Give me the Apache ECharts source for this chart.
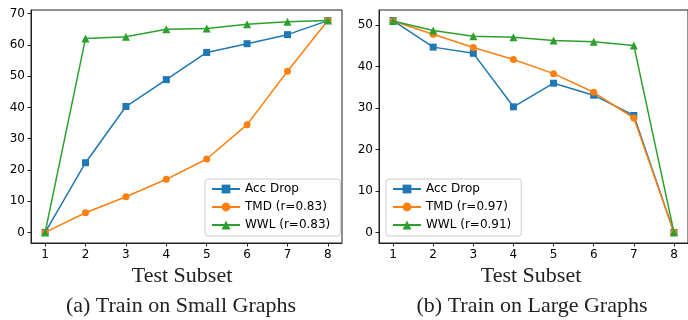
<!DOCTYPE html>
<html>
<head>
<meta charset="utf-8">
<script src="https://cdn.jsdelivr.net/npm/echarts@6/dist/echarts.min.js"></script>
<style>html,body{margin:0;padding:0;background:#fff;}#c{width:688px;height:320px;}</style>
</head>
<body>
<div id="c"></div>
<script>
const subsets = [1, 2, 3, 4, 5, 6, 7, 8];
const xTicks = [1, 2, 3, 4, 5, 6, 7, 8];
const yTicksLeft = [0, 10, 20, 30, 40, 50, 60, 70];
const yTicksRight = [0, 10, 20, 30, 40, 50];

// (a) Train on Small Graphs
const smallAccDrop = [0, 22.3, 40.3, 48.9, 57.6, 60.4, 63.3, 67.8];
const smallTMD     = [0, 6.3, 11.4, 17.0, 23.5, 34.5, 51.6, 67.8];
const smallWWL     = [0, 62.1, 62.6, 65.0, 65.3, 66.6, 67.4, 67.8];

// (b) Train on Large Graphs
const largeAccDrop = [51.1, 44.7, 43.2, 30.3, 36.0, 33.1, 28.2, 0];
const largeTMD     = [51.0, 47.8, 44.6, 41.7, 38.3, 33.8, 27.6, 0];
const largeWWL     = [51.0, 48.7, 47.3, 47.1, 46.3, 46.0, 45.1, 0];

const namesLeft = ['Acc Drop', 'TMD (r=0.83)', 'WWL (r=0.83)'];
const namesRight = ['Acc Drop', 'TMD (r=0.97)', 'WWL (r=0.91)'];

const colors = ['#1f77b4', '#ff7f0e', '#2ca02c'];
const symbols = ['rect', 'circle', 'triangle'];
const symSizes = [7, 7, 8];

const tickFont = {fontFamily: 'DejaVu Sans', fontSize: 12, color: '#000'};
const axisColor = '#222';

function pairs(vals) { return subsets.map((x, i) => [x, vals[i]]); }

function pad(lo, hi) { const m = (hi - lo) * 0.05; return [lo - m, hi + m]; }

function xAxis(gi) {
  return {
    type: 'value', gridIndex: gi, min: 0.65, max: 8.35,
    splitLine: {show: false},
    axisLine: {show: true, onZero: false, lineStyle: {color: axisColor, width: 1}},
    axisTick: {show: true, length: 3.5, customValues: xTicks, lineStyle: {color: axisColor}},
    axisLabel: {show: true, margin: 6, customValues: xTicks, ...tickFont}
  };
}
function yAxis(gi, range, ticks) {
  return {
    type: 'value', gridIndex: gi, min: range[0], max: range[1],
    splitLine: {show: false},
    axisLine: {show: true, onZero: false, lineStyle: {color: axisColor, width: 1}},
    axisTick: {show: true, length: 3.5, customValues: ticks, lineStyle: {color: axisColor}},
    axisLabel: {show: true, margin: 6, customValues: ticks, ...tickFont}
  };
}

const leftRange = pad(0, 67.8);
const rightRange = pad(0, 51.1);

function mkSeries(names, data, gi) {
  return names.map((n, i) => ({
    name: n, type: 'line', xAxisIndex: gi, yAxisIndex: gi,
    data: pairs(data[i]),
    symbol: symbols[i], symbolSize: symSizes[i],
    lineStyle: {color: colors[i], width: 1.5},
    itemStyle: {color: colors[i]},
    animation: false, z: 2 + i
  }));
}

function legend(left, names) {
  return {
    data: names, left: left, top: 179, orient: 'vertical',
    backgroundColor: '#fff', borderColor: '#cccccc', borderWidth: 1, borderRadius: 3,
    padding: [3, 10, 4, 6], itemGap: 4, itemWidth: 28, itemHeight: 11,
    textStyle: {fontFamily: 'DejaVu Sans', fontSize: 12, color: '#000', lineHeight: 14},
    selectedMode: false
  };
}

const serif = 'Liberation Serif, Times New Roman, serif';

const option = {
  backgroundColor: '#fff',
  animation: false,
  grid: [
    {left: 31, top: 10, width: 311, height: 233, show: true, borderColor: axisColor, borderWidth: 1},
    {left: 379, top: 10, width: 311, height: 233, show: true, borderColor: axisColor, borderWidth: 1}
  ],
  xAxis: [xAxis(0), xAxis(1)],
  yAxis: [yAxis(0, leftRange, yTicksLeft), yAxis(1, rightRange, yTicksRight)],
  legend: [legend(205, namesLeft), legend(386, namesRight)],
  series: [
    ...mkSeries(namesLeft, [smallAccDrop, smallTMD, smallWWL], 0),
    ...mkSeries(namesRight, [largeAccDrop, largeTMD, largeWWL], 1)
  ],
  graphic: [
    {type: 'text', x: 182, y: 276, style: {text: 'Test Subset', font: '22px ' + serif, fill: '#222', align: 'center', verticalAlign: 'middle'}},
    {type: 'text', x: 181, y: 306, style: {text: '(a) Train on Small Graphs', font: '22px ' + serif, fill: '#222', align: 'center', verticalAlign: 'middle'}},
    {type: 'text', x: 531, y: 276, style: {text: 'Test Subset', font: '22px ' + serif, fill: '#222', align: 'center', verticalAlign: 'middle'}},
    {type: 'text', x: 532, y: 306, style: {text: '(b) Train on Large Graphs', font: '22px ' + serif, fill: '#222', align: 'center', verticalAlign: 'middle'}}
  ]
};

const chart = echarts.init(document.getElementById('c'), null, {renderer: 'canvas'});
chart.setOption(option);
</script>
</body>
</html>
